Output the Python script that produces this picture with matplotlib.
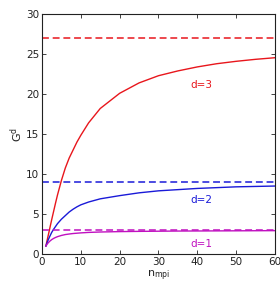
import matplotlib
matplotlib.use("Agg")
import matplotlib.pyplot as plt

# values
n_mpi = [1, 1.5, 2, 2.5, 3, 3.5, 4, 5, 6, 7, 8, 9, 10, 12, 15, 20, 25, 30,
         35, 40, 45, 50, 55, 60]
g_d3 = [1.0, 2.1, 3.2, 4.3, 5.35, 6.4, 7.4, 9.2, 10.75, 12.0, 13.0, 14.0,
        14.85, 16.4, 18.2, 20.1, 21.4, 22.3, 22.9, 23.4, 23.8, 24.1, 24.35, 24.55]
g_d2 = [1.0, 1.65, 2.2, 2.7, 3.1, 3.45, 3.8, 4.35, 4.8, 5.25, 5.6, 5.9,
        6.15, 6.5, 6.9, 7.3, 7.65, 7.9, 8.05, 8.2, 8.3, 8.4, 8.45, 8.5]
g_d1 = [1.0, 1.35, 1.6, 1.8, 1.95, 2.07, 2.17, 2.32, 2.43, 2.5, 2.56, 2.6,
        2.64, 2.7, 2.75, 2.8, 2.83, 2.85, 2.87, 2.88, 2.89, 2.9, 2.91, 2.92]
limits = [27, 9, 3]
labels = ["d=3", "d=2", "d=1"]
label_pos = [(41, 21.2), (41, 6.7), (41, 1.3)]
colors = ["#e8161c", "#1a1ad8", "#c010c0"]

fig = plt.figure(figsize=(2.8, 2.83), dpi=100)
ax = fig.add_axes([0.15, 0.1025, 0.832, 0.8475])

for g, lim, lab, pos, c in zip([g_d3, g_d2, g_d1], limits, labels, label_pos, colors):
    ax.plot(n_mpi, g, color=c, lw=1.0)
    ax.axhline(lim, color=c, lw=1.1, dashes=(4.5, 2.5))
    ax.text(pos[0], pos[1], lab, color=c, fontsize=7.5, ha="center", va="center")

ax.set_xlim(0, 60)
ax.set_ylim(0, 30)
ax.set_xticks(range(0, 61, 10))
ax.set_yticks(range(0, 31, 5))
ax.tick_params(direction="in", top=True, right=True, length=3, width=0.6,
               labelsize=7.5, pad=2, colors="#222222")
for s in ax.spines.values():
    s.set_linewidth(0.8)
    s.set_color("#222222")
ax.set_xlabel(r"n$_{\rm mpi}$", fontsize=8, labelpad=1, color="#222222")
ax.set_ylabel(r"G$^{\rm d}$", fontsize=8, labelpad=1, color="#222222")

fig.savefig("out.png", dpi=100)
